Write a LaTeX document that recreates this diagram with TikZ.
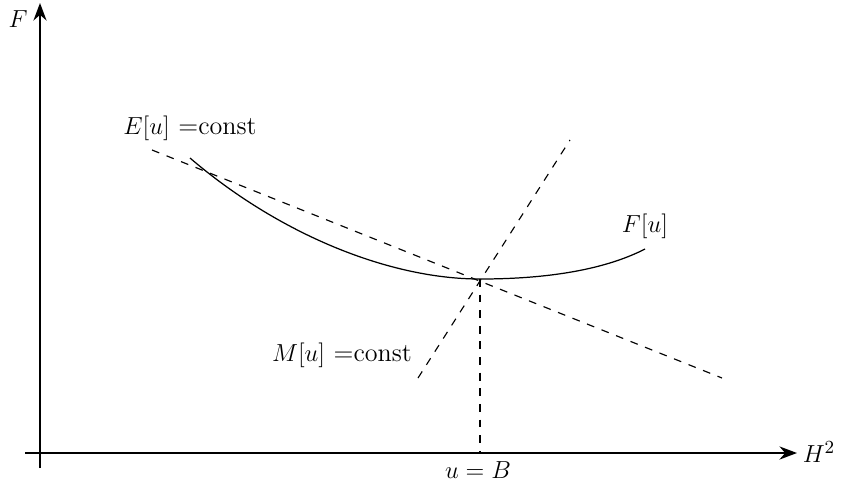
\documentclass[tikz,border=0pt]{standalone}
\usepackage{amsmath}
\usetikzlibrary{arrows.meta,positioning,calc}

\begin{document}
\begin{tikzpicture}[
    x=0.0171cm,y=-0.0171cm,
    font=\fontsize{12.7}{15}\selectfont,
    axe/.style   = {-{Stealth[length=3mm]}, line width=0.85pt},
    courbe/.style= {line width=0.6pt},
    droite/.style= {dash pattern=on 3.8pt off 3.8pt, line width=0.55pt},
    lbl/.style   = {inner sep=1pt},
  ]
  \useasboundingbox (0,0) rectangle (843,491);

  % axes
  \coordinate (xg) at (25,453);
  \coordinate (xd) at (797,453);
  \coordinate (yb) at (40,468);
  \coordinate (yh) at (40,3);
  \draw[axe] (xg) -- (xd);
  \draw[axe] (yb) -- (yh);
  \node[lbl] (nF)  at (18,19)   {$F$};
  \node[lbl] (nH)  at (819,452) {$H^2$};

  % point de contact
  \coordinate (P)  at (480,279);
  \coordinate (Pb) at (480,453);
  \node[lbl] (nB) at (478,470) {$u=B$};

  % F[u]
  \coordinate (c0) at (190,158);
  \coordinate (c1) at (645,249);
  \draw[courbe] (c0) .. controls (280,235) and (390,279) .. (P)
                     .. controls (560,279) and (612,266) .. (c1);
  \node[lbl] (nFu) at (645,226) {$F[u]$};

  % E[u]=const
  \coordinate (e0) at (152,150);
  \coordinate (e1) at (722,378);
  \draw[droite] (e0) -- (e1);
  \node[lbl] (nE) at (190,128) {$E[u]$ =const};

  % M[u]=const
  \coordinate (m0) at (418,378);
  \coordinate (m1) at (570,140);
  \draw[droite] (m0) -- (m1);
  \node[lbl] (nM) at (342,355) {$M[u]$ =const};

  \draw[droite] (P) -- (Pb);

\end{tikzpicture}
\end{document}
